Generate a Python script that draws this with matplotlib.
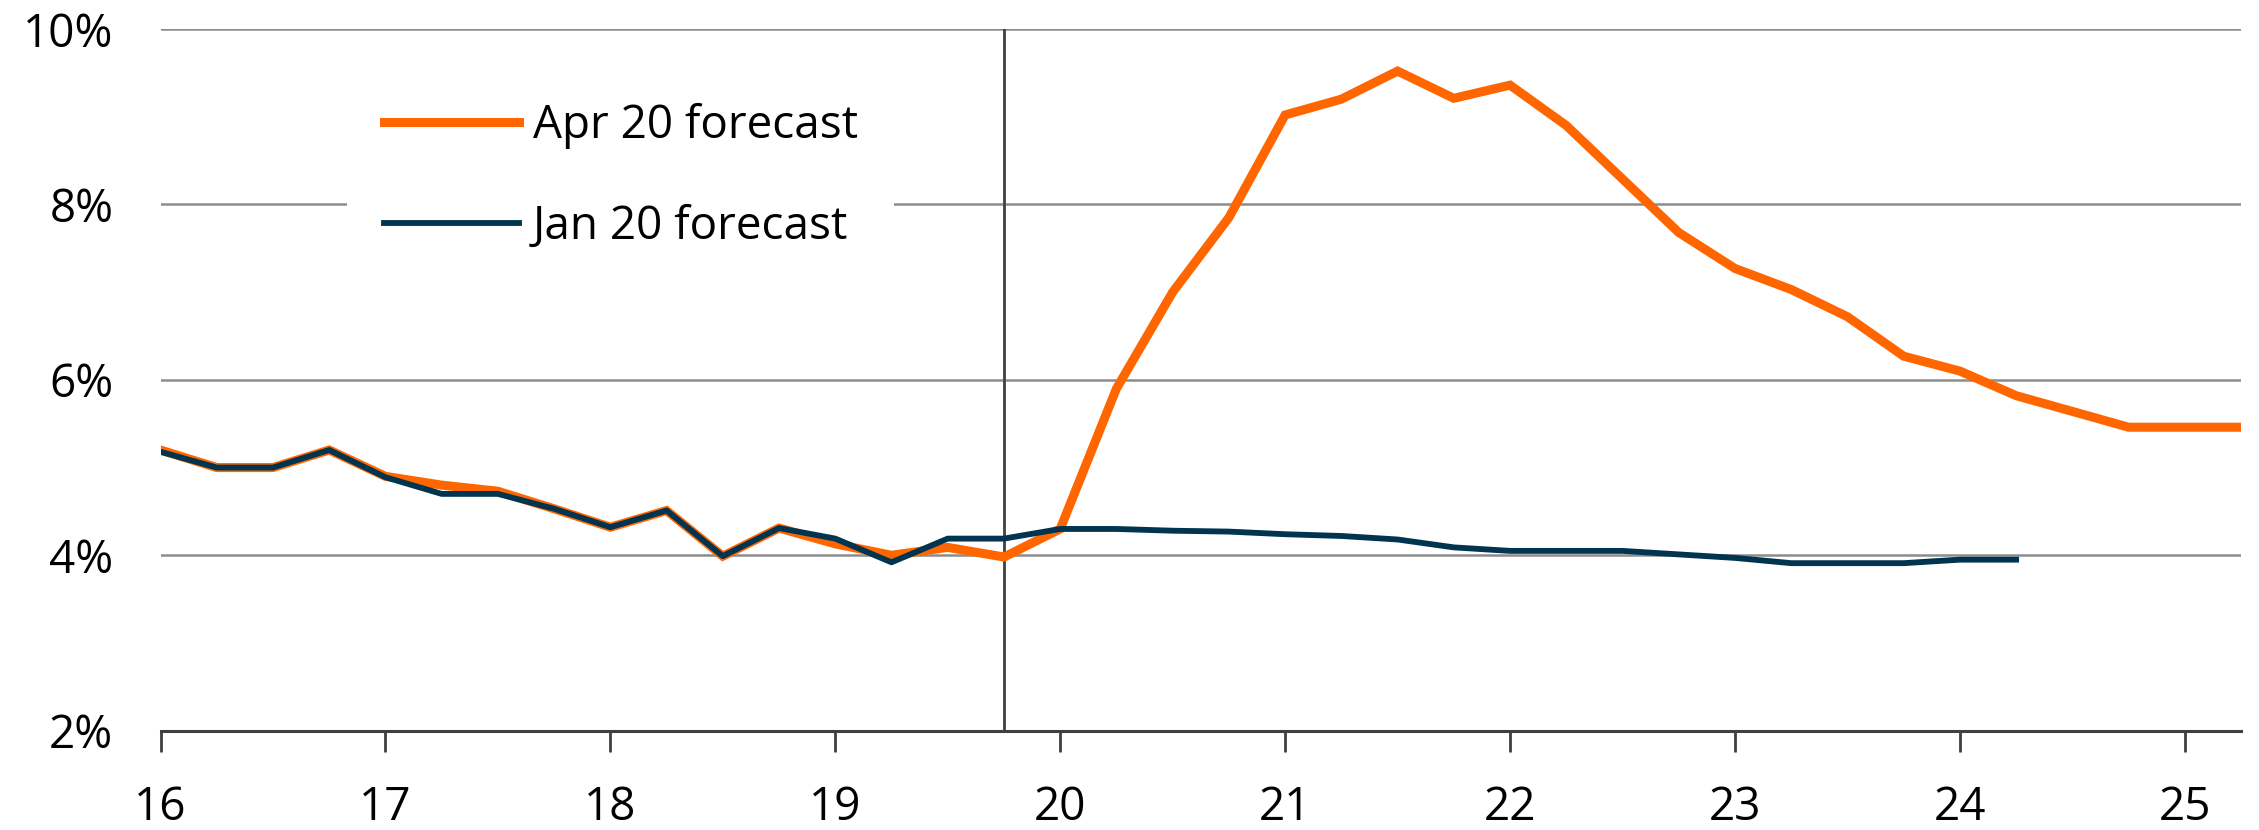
import matplotlib
matplotlib.use("Agg")
import matplotlib.pyplot as plt

plt.rcParams["font.family"] = ["Open Sans", "DejaVu Sans"]

# quarters, expressed as fractional years (16 = 2016 Q1)
quarters = [16.0, 16.25, 16.5, 16.75, 17.0, 17.25, 17.5, 17.75,
            18.0, 18.25, 18.5, 18.75, 19.0, 19.25, 19.5, 19.75,
            20.0, 20.25, 20.5, 20.75, 21.0, 21.25, 21.5, 21.75,
            22.0, 22.25, 22.5, 22.75, 23.0, 23.25, 23.5, 23.75,
            24.0, 24.25, 24.5, 24.75, 25.0, 25.25]

apr20 = [5.2, 5.0, 5.0, 5.2, 4.9, 4.8, 4.73, 4.53,
         4.32, 4.51, 3.99, 4.31, 4.13, 4.0, 4.09, 3.98,
         4.3, 5.9, 7.0, 7.85, 9.02, 9.2, 9.52, 9.21,
         9.36, 8.9, 8.29, 7.68, 7.27, 7.03, 6.72, 6.27,
         6.1, 5.82, 5.64, 5.46, 5.46, 5.46]

jan20 = [5.18, 5.0, 5.0, 5.2, 4.89, 4.7, 4.7, 4.53,
         4.32, 4.51, 3.99, 4.31, 4.19, 3.92, 4.19, 4.19,
         4.3, 4.3, 4.28, 4.27, 4.24, 4.22, 4.18, 4.09,
         4.05, 4.05, 4.05, 4.01, 3.97, 3.91, 3.91, 3.91,
         3.95, 3.95]

series_labels = ["Apr 20 forecast", "Jan 20 forecast"]
year_ticks = [16, 17, 18, 19, 20, 21, 22, 23, 24, 25]
pct_ticks = [2, 4, 6, 8, 10]
pct_labels = ["2%", "4%", "6%", "8%", "10%"]
forecast_start = 19.75

ORANGE = "#FF6600"
NAVY = "#00344F"
DARK = "#404040"
GRID = "#8C8C8C"
FS = 33

fig = plt.figure(figsize=(22.59, 8.30), dpi=100)
ax = fig.add_axes([0.07105, 0.11964, 0.921, 0.84542])

ax.plot(quarters, apr20, color=ORANGE, lw=6.5, solid_joinstyle="miter",
        label=series_labels[0], zorder=3)
ax.plot(quarters[:len(jan20)], jan20, color=NAVY, lw=4.2,
        label=series_labels[1], zorder=4)

ax.axvline(forecast_start, color=DARK, lw=2, zorder=2)

ax.set_xlim(16, 25.25)
ax.set_ylim(2, 10)
ax.set_xticks(year_ticks)
ax.set_xticklabels([str(t) for t in year_ticks])
ax.set_yticks(pct_ticks)
ax.set_yticklabels(pct_labels)

ax.grid(axis="y", color=GRID, lw=1.8, zorder=1)
ax.set_axisbelow(True)

for side in ["top", "right", "left"]:
    ax.spines[side].set_visible(False)
ax.spines["bottom"].set_color(DARK)
ax.spines["bottom"].set_linewidth(2.2)
ax.spines["bottom"].set_zorder(5)

ax.tick_params(axis="x", direction="out", length=15, width=2, color=DARK,
               labelsize=FS, pad=24)
ax.tick_params(axis="y", length=0, labelsize=FS, pad=34)

leg = ax.legend(loc="upper left", bbox_to_anchor=(0.1536, 0.92),
                bbox_transform=fig.transFigure, borderaxespad=0,
                frameon=True, fancybox=False, framealpha=1,
                facecolor="white", edgecolor="none", fontsize=FS,
                handlelength=2.95, handletextpad=0.3, labelspacing=1.2,
                borderpad=0.8)
leg.set_zorder(6)

fig.savefig("out.png", dpi=100, facecolor="white")
